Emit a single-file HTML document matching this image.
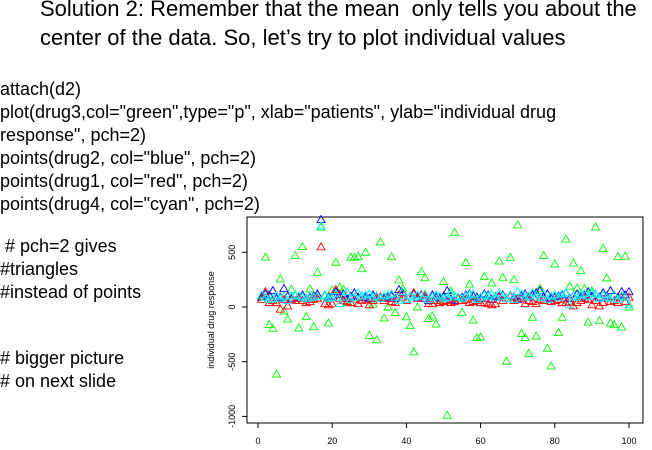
<!DOCTYPE html>
<html><head><meta charset="utf-8"><style>
body{margin:0;width:652px;height:450px;background:#fff;overflow:hidden;position:relative;font-family:"Liberation Sans",Arial,sans-serif;}
.t{position:absolute;left:40px;font-size:22px;white-space:nowrap;color:#000;}
.c{position:absolute;left:0;font-size:18px;white-space:nowrap;color:#000;}
svg{position:absolute;left:0;top:0;}
</style></head><body>
<div class="t" style="top:-4px">Solution 2: Remember that the mean&nbsp; only tells you about the</div>
<div class="t" style="top:25px">center of the data. So, let’s try to plot individual values</div>
<div class="c" style="top:79px">attach(d2)</div>
<div class="c" style="top:102px">plot(drug3,col="green",type="p", xlab="patients", ylab="individual drug</div>
<div class="c" style="top:125px">response", pch=2)</div>
<div class="c" style="top:148px">points(drug2, col="blue", pch=2)</div>
<div class="c" style="top:171px">points(drug1, col="red", pch=2)</div>
<div class="c" style="top:194px">points(drug4, col="cyan", pch=2)</div>
<div class="c" style="top:236px">&nbsp;# pch=2 gives</div>
<div class="c" style="top:259px">#triangles</div>
<div class="c" style="top:282px">#instead of points</div>
<div class="c" style="top:348px"># bigger picture</div>
<div class="c" style="top:371px"># on next slide</div>
<svg id="chart" width="652" height="450"></svg>
<script>
const drug3=[100,455,-160,-195,-613,256,-37,-110,162,470,-192,552,-88,165,-180,317,730,100,-146,155,409,180,162,40,455,455,464,350,500,-260,27,-300,595,-100,0,460,-50,247,168,-90,-170,-410,0,323,268,-105,-82,-156,60,232,-990,146,682,80,-49,408,210,-119,-280,-274,280,100,220,100,420,271,-496,454,250,750,-241,-278,-424,-94,-265,170,472,-378,-540,393,-232,-94,621,190,402,174,332,170,-138,146,732,-125,536,265,-147,-162,460,-183,465,0];
const drug2=[90,120,110,150,80,90,170,100,80,110,90,110,80,90,100,120,800,110,90,100,140,110,120,80,100,130,90,100,90,80,110,100,90,80,90,100,80,160,130,70,100,120,90,110,80,60,110,90,80,100,150,70,60,80,90,110,120,100,90,80,120,110,70,90,100,110,80,100,90,70,100,120,90,110,130,150,90,120,80,90,100,110,130,80,100,120,90,110,140,100,120,90,130,100,150,110,90,140,110,140];
const drug1=[70,140,40,60,40,-20,70,10,70,60,80,60,40,50,70,80,550,30,20,30,160,80,60,50,40,70,30,60,70,20,60,80,90,60,80,50,40,110,90,60,100,130,80,110,100,30,30,60,40,50,60,40,50,80,60,70,40,50,60,40,40,30,20,30,90,60,80,100,60,80,80,30,60,50,30,70,60,70,50,60,70,40,40,50,10,40,60,80,70,20,60,10,40,80,50,60,40,90,50,90];
const drug4=[110,90,70,80,100,80,100,60,100,110,100,90,80,100,90,100,740,110,80,90,120,30,90,140,70,90,130,100,110,120,90,100,80,100,110,120,90,60,140,70,100,90,110,100,120,70,90,110,100,80,90,120,100,90,80,100,110,120,70,90,110,100,120,90,130,100,80,110,70,140,120,90,100,130,110,90,120,70,100,110,90,120,130,20,100,90,110,120,100,130,120,80,110,90,80,110,70,100,90,20];
const xTicks=[0,20,40,60,80,100];
const yTicks=[-1000,-500,0,500];
const NS="http://www.w3.org/2000/svg";
const svg=document.getElementById('chart');
const sx=v=>258+v*3.71;
const sy=v=>307-v*0.1094;
function mk(tag,attrs){const e=document.createElementNS(NS,tag);for(const k in attrs)e.setAttribute(k,attrs[k]);svg.appendChild(e);return e;}
const box=mk('rect',{x:247,y:217,width:396,height:206,fill:'none',stroke:'#000','stroke-width':1});


xTicks.forEach(t=>{
  const l=mk('line',{x1:sx(t),x2:sx(t),y1:423,y2:428,stroke:'#000'});
  
  
  const tx=mk('text',{x:sx(t),y:444,'font-size':9,'text-anchor':'middle','font-family':'Liberation Sans, sans-serif'});
  tx.textContent=t;
  
  
});
yTicks.forEach(t=>{
  const l=mk('line',{x1:242,x2:247,y1:sy(t),y2:sy(t),stroke:'#000'});
  
  
  const tx=mk('text',{x:0,y:0,'font-size':9,'text-anchor':'middle','font-family':'Liberation Sans, sans-serif',transform:`translate(235,${sy(t)}) rotate(-90)`});
  tx.textContent=t;
  
  
});
const yl=mk('text',{x:0,y:0,'font-size':9,'text-anchor':'middle','font-family':'Liberation Sans, sans-serif',transform:'translate(214,320) rotate(-90)'});
yl.textContent='individual drug response';


function series(data,color,name){
  data.forEach((v,i)=>{
    const x=sx(i+1),y=sy(v);
    const p=mk('polygon',{points:`${x},${y-4} ${x-4},${y+3} ${x+4},${y+3}`,fill:'none',stroke:color,'stroke-width':0.9});
    
    
  });
}
series(drug3,'#00ff00','drug3');
series(drug2,'#0000ff','drug2');
series(drug1,'#ff0000','drug1');
series(drug4,'#00ffff','drug4');
</script>
</body></html>
